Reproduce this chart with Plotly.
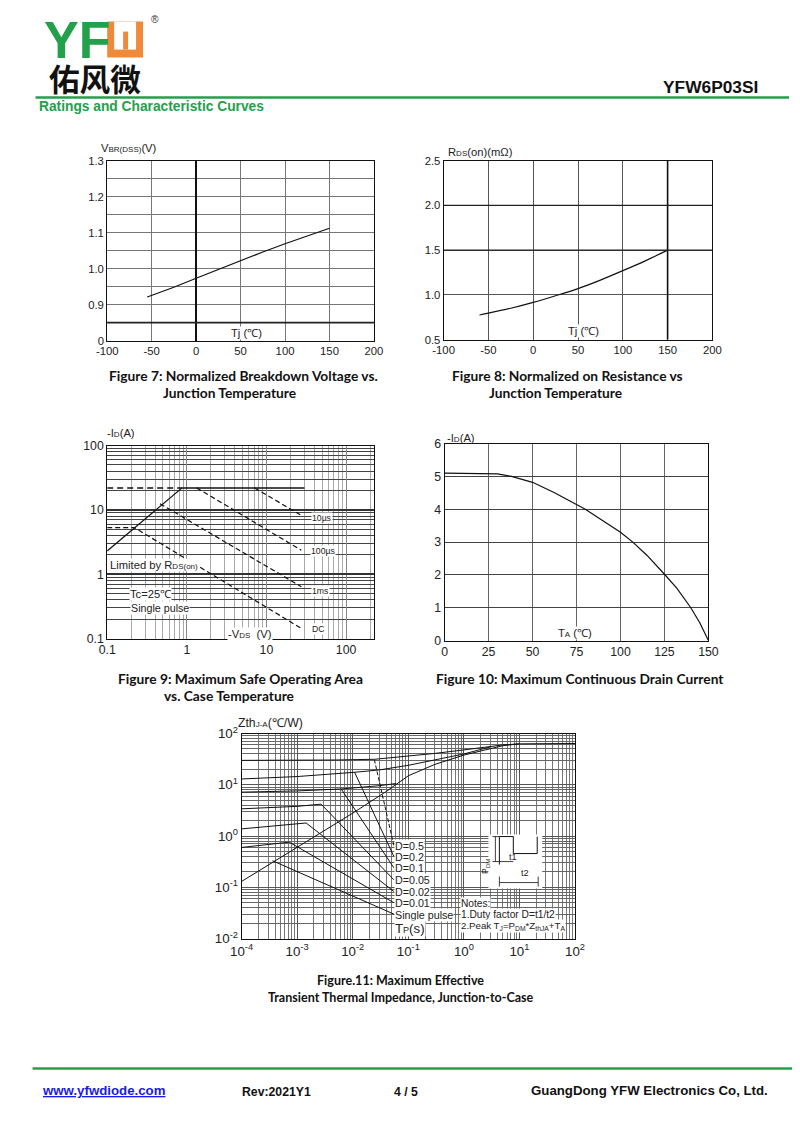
import plotly.graph_objects as go

W, H = 800, 1130
FONT = "Liberation Sans, Arial, sans-serif"
CAP = "Lato, sans-serif"
# page placement correction (reference pixel -> layout pixel)
SX, OX = 0.977, 17.4
SY, OY = 0.985, 16.4


def X(p):
    return (p - OX) / SX / W


def Y(p):
    return 1 - (p - OY) / SY / H


# ---------------- data ----------------
# Figure 7
f7_tj = [-55, -25, 0, 25, 50, 75, 100, 125, 150]
f7_vbr = [0.921, 0.948, 0.973, 0.998, 1.022, 1.046, 1.069, 1.091, 1.112]
f7_yticks = [0.8, 0.9, 1.0, 1.1, 1.2, 1.3]
f7_ytext = ["0", "0.9", "1.0", "1.1", "1.2", "1.3"]
tj_ticks = [-100, -50, 0, 50, 100, 150, 200]
tj_text = ["-100", "-50", "0", "50", "100", "150", "200"]

# Figure 8
f8_tj = [-60, -50, -25, 0, 25, 50, 75, 100, 125, 150]
f8_rds = [0.775, 0.795, 0.85, 0.915, 0.99, 1.07, 1.165, 1.27, 1.38, 1.50]
f8_yticks = [0.5, 1.0, 1.5, 2.0, 2.5]
f8_ytext = ["0.5", "1.0", "1.5", "2.0", "2.5"]

# Figure 9 (SOA)
f9_ticks = [0.1, 1, 10, 100]
f9_ticktext = ["0.1", "1", "10", "100"]
f9_rds_v = [0.1, 0.87]
f9_rds_i = [2.3, 22]
f9_limd_v = [0.1, 0.87]
f9_limd_i = [22, 22]
f9_lims_v = [0.87, 30]
f9_lims_i = [22, 22]
f9_10us_v = [7.1, 27.4]
f9_10us_i = [22, 8.2]
f9_100us_v = [1.33, 27.4]
f9_100us_i = [22, 2.36]
f9_1ms_v = [0.46, 27.4]
f9_1ms_i = [12.5, 0.64]
f9_dc_v = [0.1, 0.22, 27.4]
f9_dc_i = [5.3, 5.3, 0.144]

# Figure 10
f10_ta = [0, 25, 30, 38, 50, 62.5, 75, 80, 90, 100, 107, 115, 125, 132, 140, 145, 150]
f10_id = [5.1, 5.1, 5.08, 5.0, 4.82, 4.5, 4.15, 4.0, 3.65, 3.3, 3.0, 2.6, 2.02, 1.6, 1.0, 0.55, 0]
f10_xticks = [0, 25, 50, 75, 100, 125, 150]
f10_yticks = [0, 1, 2, 3, 4, 5, 6]

# Figure 11 (transient thermal impedance)
f11_xticks = [1e-4, 1e-3, 1e-2, 1e-1, 1, 10, 100]
f11_xtext = ["10<sup>-4</sup>", "10<sup>-3</sup>", "10<sup>-2</sup>", "10<sup>-1</sup>",
             "10<sup>0</sup>", "10<sup>1</sup>", "10<sup>2</sup>"]
f11_yticks = [1e-2, 1e-1, 1, 10, 100]
f11_ytext = ["10<sup>-2</sup>", "10<sup>-1</sup>", "10<sup>0</sup>", "10<sup>1</sup>", "10<sup>2</sup>"]
f11_d05_t = [1e-4, 1e-3, 5e-3, 0.025, 0.1, 0.3, 1, 5, 10, 100]
f11_d05_z = [30, 30, 30.5, 31.5, 36, 41, 48, 60, 63, 64]
f11_d02_t = [1e-4, 1e-3, 0.011, 0.03, 0.1, 0.3, 1, 3]
f11_d02_z = [13, 14.5, 17.6, 19.5, 24, 31, 40, 55]
f11_d01_t = [1e-4, 1e-3, 0.0062, 0.03, 0.06]
f11_d01_z = [7.2, 7.6, 8.3, 9.6, 10.6]
f11_d005_t = [1e-4, 1e-3, 0.0027]
f11_d005_z = [3.4, 3.8, 4.2]
f11_d002_t = [1e-4, 1e-3, 0.00145]
f11_d002_z = [1.38, 1.7, 1.8]
f11_d001_t = [1e-4, 0.00072]
f11_d001_z = [0.6, 0.76]
f11_sp_t = [1e-4, 1e-3, 0.01, 0.04, 0.1, 0.3, 1, 5, 10]
f11_sp_z = [0.13, 0.6, 2.8, 7.4, 15, 25, 38, 58, 63]
f11_labels = ["D=0.5", "D=0.2", "D=0.1", "D=0.05", "D=0.02", "D=0.01", "Single pulse"]
f11_lead_t0 = [0.0245, 0.0108, 0.0062, 0.0027, 0.00145, 0.00072, 0.00036]
f11_lead_z0 = [31, 17.6, 8.3, 4.2, 1.8, 0.76, 0.33]
f11_lead_t1 = [0.055, 0.055, 0.055, 0.055, 0.055, 0.055, 0.055]
f11_lead_z1 = [0.65, 0.40, 0.24, 0.14, 0.083, 0.05, 0.03]

# ---------------- figure ----------------
fig = go.Figure()


def add_line(x, y, ax, dash="solid", width=1.2, shape="linear"):
    xa = "x" if ax == 1 else "x%d" % ax
    ya = "y" if ax == 1 else "y%d" % ax
    fig.add_trace(go.Scatter(x=x, y=y, xaxis=xa, yaxis=ya, mode="lines",
                             line=dict(color="#111", width=width, dash=dash, shape=shape),
                             showlegend=False, hoverinfo="skip"))


add_line(f7_tj, f7_vbr, 1)
add_line(f8_tj, f8_rds, 2, shape="spline")
add_line(f9_rds_v, f9_rds_i, 3)
add_line(f9_limd_v, f9_limd_i, 3, dash="6px,4px", width=1.5)
add_line(f9_lims_v, f9_lims_i, 3, width=1.5)
add_line(f9_10us_v, f9_10us_i, 3, dash="5px,3px")
add_line(f9_100us_v, f9_100us_i, 3, dash="5px,3px")
add_line(f9_1ms_v, f9_1ms_i, 3, dash="5px,3px")
add_line(f9_dc_v, f9_dc_i, 3, dash="5px,3px")
add_line(f10_ta, f10_id, 4)
for t, z in [(f11_d05_t, f11_d05_z), (f11_d02_t, f11_d02_z), (f11_d01_t, f11_d01_z),
             (f11_d005_t, f11_d005_z), (f11_d002_t, f11_d002_z), (f11_d001_t, f11_d001_z),
             (f11_sp_t, f11_sp_z)]:
    add_line(t, z, 5, width=1.0)
for i in range(len(f11_labels)):
    add_line([f11_lead_t0[i], f11_lead_t1[i]], [f11_lead_z0[i], f11_lead_z1[i]], 5,
             dash="4px,2px" if i == 0 else "solid", width=1.0)

TICKF = dict(family=FONT, size=11.3, color="#222")


def dom_x(a, b):
    return [X(a), X(b)]


def dom_y(top, bottom):
    return [Y(bottom), Y(top)]


base = dict(showline=True, linecolor="#111", linewidth=1, mirror=True, ticks="",
            zeroline=False, fixedrange=True, tickfont=TICKF, showgrid=True, gridwidth=1)

layout = dict(
    width=W, height=H, margin=dict(l=0, r=0, t=0, b=0),
    paper_bgcolor="white", plot_bgcolor="white", showlegend=False,
    # Figure 7
    xaxis=dict(base, domain=dom_x(105, 373), range=[-100, 200], tickvals=tj_ticks, ticktext=tj_text,
               gridcolor="#777", anchor="y", zeroline=True, zerolinecolor="#111", zerolinewidth=1.5),
    yaxis=dict(base, domain=dom_y(160, 340), range=[0.8, 1.3], tickvals=f7_yticks,
               ticktext=f7_ytext, gridcolor="#777", anchor="x",
               minor=dict(tick0=0.8, dtick=0.05, showgrid=True, gridcolor="#777", gridwidth=1)),
    # Figure 8
    xaxis2=dict(base, domain=dom_x(443, 713), range=[-100, 200], tickvals=tj_ticks, ticktext=tj_text,
                gridcolor="#555", anchor="y2"),
    yaxis2=dict(base, domain=dom_y(160, 339), range=[0.5, 2.5], tickvals=f8_yticks,
                ticktext=f8_ytext, gridcolor="#555", anchor="x2"),
    # Figure 9
    xaxis3=dict(base, type="log", domain=dom_x(105, 373), range=[-1, 2.35], tickvals=f9_ticks,
                ticktext=f9_ticktext, gridcolor="#888", anchor="y3", tickfont=dict(TICKF, size=12.3),
                minor=dict(dtick="D1", showgrid=True, gridcolor="#aaa", gridwidth=1)),
    yaxis3=dict(base, type="log", domain=dom_y(445, 638), range=[-1, 2], tickvals=f9_ticks,
                ticktext=f9_ticktext, gridcolor="#333", gridwidth=1.5, anchor="x3",
                tickfont=dict(TICKF, size=12.3),
                minor=dict(dtick="D1", showgrid=True, gridcolor="#444", gridwidth=1.4)),
    # Figure 10
    xaxis4=dict(base, domain=dom_x(444, 709), range=[0, 150], tickvals=f10_xticks,
                gridcolor="#666", anchor="y4", tickfont=dict(TICKF, size=12.3)),
    yaxis4=dict(base, domain=dom_y(443, 640), range=[0, 6], tickvals=f10_yticks,
                gridcolor="#444", anchor="x4", tickfont=dict(TICKF, size=12.3)),
    # Figure 11
    xaxis5=dict(base, type="log", domain=dom_x(240, 575), range=[-4, 2], tickvals=f11_xticks,
                ticktext=f11_xtext, gridcolor="#555", anchor="y5", tickfont=dict(TICKF, size=13.3),
                minor=dict(dtick="D1", showgrid=True, gridcolor="#777", gridwidth=1)),
    yaxis5=dict(base, type="log", domain=dom_y(733, 938), range=[-2, 2], tickvals=f11_yticks,
                ticktext=f11_ytext, gridcolor="#555", anchor="x5", tickfont=dict(TICKF, size=13.3),
                minor=dict(dtick="D1", showgrid=True, gridcolor="#666", gridwidth=1)),
)
fig.update_layout(**layout)

ann = []


def T(text, x, y, size=11, xa="left", ya="middle", color="#222", family=FONT, bg=None, angle=0):
    d = dict(text=text, x=X(x), y=Y(y), xref="paper", yref="paper", showarrow=False,
             xanchor=xa, yanchor=ya, font=dict(family=family, size=size * 1.02, color=color),
             textangle=angle, borderpad=0)
    if bg:
        d["bgcolor"] = bg
    ann.append(d)


SM = "<span style='font-size:8px'>%s</span>"
GREEN = "#23a04b"

# header
T("<b>YF</b>", 41, 39, size=51, color=GREEN)
T("®", 148, 19, size=10, color="#333")
T("<b>佑风微</b>", 46, 77, size=30, color="#111", family="Noto Sans CJK SC")
T("<b>YFW6P03SI</b>", 760, 86, size=17, xa="right", color="#111")
T("<b>Ratings and Characteristic Curves</b>", 35, 106, size=13.5, color=GREEN)

# footer
T("<b><u>www.yfwdiode.com</u></b>", 38, 1090, size=13, color="#1a1ae6")
T("<b>Rev:2021Y1</b>", 239, 1091, size=12, color="#111")
T("<b>4 / 5</b>", 392, 1091, size=12, color="#111")
T("<b>GuangDong YFW Electronics Co, Ltd.</b>", 770, 1090, size=13, xa="right", color="#111")

# figure 7
T("V" + SM % "BR(DSS)" + "(V)", 98, 147, size=11)
T("Tj (℃)", 245, 332, size=11, xa="center", bg="white")
T("<b>Figure 7: Normalized Breakdown Voltage vs.</b>", 242, 375, size=13.5, xa="center", family=CAP, color="#111")
T("<b>Junction Temperature</b>", 228, 392, size=13.5, xa="center", family=CAP, color="#111")

# figure 8
T("R" + SM % "DS" + "(on)(mΩ)", 446, 151, size=11)
T("Tj (℃)", 584, 330, size=11, xa="center", bg="white")
T("<b>Figure 8: Normalized on Resistance vs</b>", 567, 375, size=13.5, xa="center", family=CAP, color="#111")
T("<b>Junction Temperature</b>", 555, 392, size=13.5, xa="center", family=CAP, color="#111")

# figure 9
T("-I" + SM % "D" + "(A)", 104, 432, size=11)
T("Limited by R" + SM % "DS(on)", 107, 564, size=11, bg="white")
T("Tc=25℃", 127, 593, size=11, bg="white")
T("Single pulse", 128, 607, size=10.5, bg="white")
T("-V" + SM % "DS" + "  (V)", 225, 633, size=11, bg="white")
T("10µs", 310, 517, size=8.5, bg="white")
T("100µs", 309, 550, size=8.5, bg="white")
T("1ms", 310, 590, size=8.5, bg="white")
T("DC", 310, 628, size=8.5, bg="white")
T("<b>Figure 9: Maximum Safe Operating Area</b>", 239, 678, size=13.5, xa="center", family=CAP, color="#111")
T("<b>vs. Case Temperature</b>", 227, 695, size=13.5, xa="center", family=CAP, color="#111")

# figure 10
T("-I" + SM % "D" + "(A)", 445, 437, size=11)
T("T" + SM % "A" + " (℃)", 575, 632, size=11, xa="center", bg="white")
T("<b>Figure 10: Maximum Continuous Drain Current</b>", 580, 678, size=13.5, xa="center", family=CAP, color="#111")

# figure 11
T("Zth" + SM % "J-A" + "(℃/W)", 235, 722, size=12)
f11_label_y = [845, 856, 867.5, 879.5, 891, 902, 914]
for lab, yy in zip(f11_labels, f11_label_y):
    T(lab, 393, yy, size=10.5, bg="white")
T("T" + "<span style='font-size:9px'>P</span>" + "(s)", 393, 928, size=13, bg="white")
T("Notes:", 459, 903, size=10, bg="white")
T("1.Duty factor D=t1/t2", 459, 914, size=10, bg="white")
T("2.Peak T<sub>J</sub>=P<sub>DM</sub>*Z<sub>thJA</sub>+T<sub>A</sub>", 459, 925.5, size=9.5, bg="white")
T("t1", 508, 856, size=9)
T("t2", 520, 872, size=9)
T("P<sub>DM</sub>", 485, 866, size=8.5, angle=-90, xa="center")
T("<b>Figure.11: Maximum Effective</b>", 400, 980, size=12.3, xa="center", family=CAP, color="#111")
T("<b>Transient Thermal Impedance, Junction-to-Case</b>", 400, 997, size=12.3, xa="center", family=CAP, color="#111")

shapes = []


def L(x0, y0, x1, y1, color="#111", width=1, dash="solid"):
    shapes.append(dict(type="line", xref="paper", yref="paper", x0=X(x0), y0=Y(y0),
                       x1=X(x1), y1=Y(y1), line=dict(color=color, width=width, dash=dash)))


def R(x0, y0, x1, y1, fill):
    shapes.append(dict(type="rect", xref="paper", yref="paper", x0=X(x0), y0=Y(y0),
                       x1=X(x1), y1=Y(y1), fillcolor=fill, line=dict(width=0), layer="above"))


# header/footer rules
L(33, 97, 790, 97, color=GREEN, width=2.5)
L(30, 1068, 793, 1068, color=GREEN, width=2.5)
# orange logo letter
ORANGE = "#ef8a3a"
R(105, 21, 141, 57, ORANGE)
R(112, 21, 134, 49, "white")
R(121, 31, 126, 49, ORANGE)

# emphasised grid lines fig 7 / fig 8
shapes.append(dict(type="line", xref="x domain", yref="y", x0=0, x1=1, y0=0.85, y1=0.85,
                   line=dict(color="#222", width=1.6)))
shapes.append(dict(type="line", xref="x2", yref="y2 domain", x0=150, x1=150, y0=0, y1=1,
                   line=dict(color="#111", width=1.6)))
for v in (1.5, 2.0):
    shapes.append(dict(type="line", xref="x2 domain", yref="y2", x0=0, x1=1, y0=v, y1=v,
                       line=dict(color="#222", width=1.4)))

# pulse inset (fig 11)
R(488, 834, 542, 888, "white")
L(499, 836, 499, 864)
L(499, 836, 513, 836)
L(513, 836, 513, 853)
L(513, 853, 537, 853)
L(537, 853, 537, 836)
L(492, 836, 499, 836, width=0.8)
L(495, 836, 495, 861, width=0.8)
L(492, 861, 513, 861, width=0.8)
L(499, 882, 538, 882, width=0.8)
L(499, 876, 499, 886, width=0.8)
L(538, 876, 538, 886, width=0.8)

fig.update_layout(annotations=ann, shapes=shapes)
fig.write_html("out.html")
